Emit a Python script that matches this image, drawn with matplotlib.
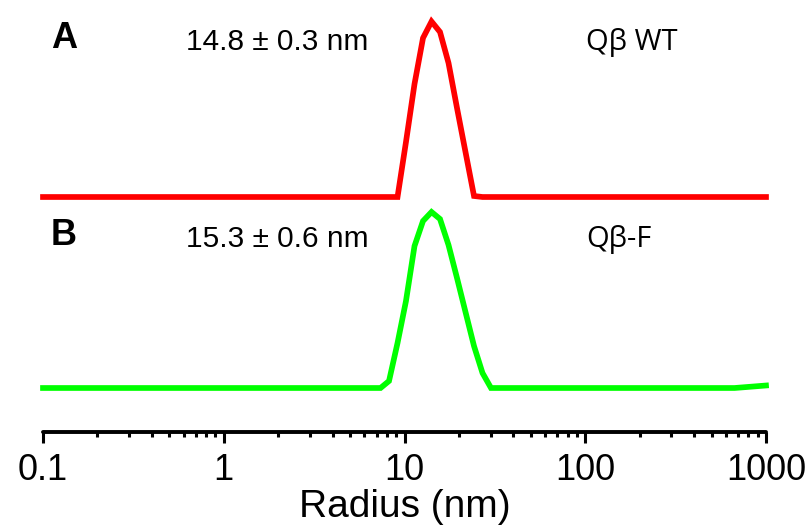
import numpy as np
import matplotlib
matplotlib.use("Agg")
import matplotlib.pyplot as plt
from matplotlib.ticker import FixedLocator, FixedFormatter, LogLocator, NullFormatter

plt.rcParams['font.family'] = ['Liberation Sans', 'DejaVu Sans']

# Size distribution (intensity, %) versus hydrodynamic radius (nm)
radius = [0.1, 7.37, 8.21, 9.15, 10.19, 11.36, 12.66, 14.11, 15.72,
          17.52, 19.52, 21.75, 24.24, 27.01, 30.10, 670.0, 1000.0]
intensity_wt = [0.0, 0.0, 0.0, 0.0, 5.5, 11.3, 15.9, 17.55, 16.5,
                13.4, 8.9, 4.5, 0.1, 0.0, 0.0, 0.0, 0.0]
intensity_f = [0.0, 0.0, 0.7, 4.5, 8.7, 14.2, 16.7, 17.6, 16.9,
               14.3, 11.0, 7.6, 4.2, 1.5, 0.0, 0.0, 0.25]

# vertical offset separating the stacked traces
stack_offset = 19.1

tick_values = [0.1, 1, 10, 100, 1000]
tick_labels = ["0.1", "1", "10", "100", "1000"]

W, H = 809, 530
fig = plt.figure(figsize=(W / 100, H / 100), dpi=100)
ax = fig.add_axes([43 / W, (H - 432) / H, (766 - 43) / W, 432 / H])

ax.plot(radius, np.array(intensity_wt) + stack_offset, color='#ff0000', lw=4.1,
        solid_joinstyle='miter', clip_on=False)
ax.plot(radius, intensity_f, color='#00ff00', lw=4.1,
        solid_joinstyle='miter', clip_on=False)

ax.set_xscale('log')
ax.set_xlim(0.1, 1000)
ax.set_ylim(-4.4, 38.8)

for s in ['top', 'left', 'right']:
    ax.spines[s].set_visible(False)
ax.spines['bottom'].set_linewidth(2.8)
ax.spines['bottom'].set_capstyle('round')
ax.set_yticks([])

ax.xaxis.set_major_locator(FixedLocator(tick_values))
ax.xaxis.set_major_formatter(FixedFormatter(tick_labels))
ax.xaxis.set_minor_locator(LogLocator(base=10, subs=np.arange(2, 10), numticks=20))
ax.xaxis.set_minor_formatter(NullFormatter())
ax.tick_params(axis='x', which='major', direction='out', length=8, width=2.2,
               labelsize=26, pad=7)
ax.tick_params(axis='x', which='minor', direction='out', length=3.8, width=2.2)
ax.set_xlabel("Radius (nm)", fontsize=28, labelpad=1)


def label(x, y, s, **kw):
    fig.text(x / W, 1 - y / H, s, va='baseline', ha='left', **kw)


label(51, 48, "A", fontsize=26, fontweight='bold')
label(186, 50, "14.8 \u00b1 0.3 nm", fontsize=21.5)
label(586, 50, "Q\u03b2 WT", fontsize=21, family=['Open Sans', 'DejaVu Sans'])
label(51, 245, "B", fontsize=26, fontweight='bold')
label(186, 247, "15.3 \u00b1 0.6 nm", fontsize=21.5)
label(586, 247, "Q\u03b2-F", fontsize=21, family=['Open Sans', 'DejaVu Sans'])

fig.savefig("out.png", dpi=100, facecolor='white')
